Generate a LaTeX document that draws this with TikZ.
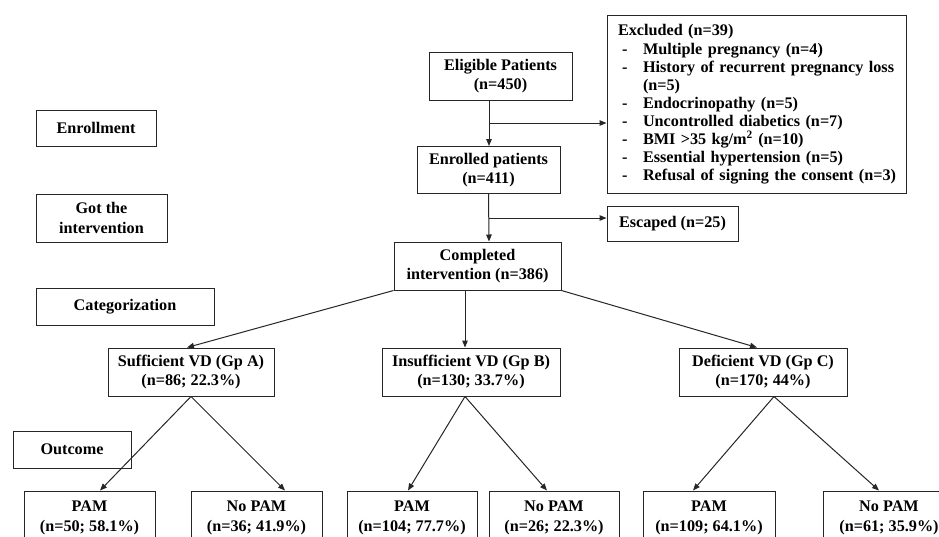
\documentclass[tikz,border=0pt]{standalone}
\usepackage{fontspec}
\setmainfont{Liberation Serif}
\usetikzlibrary{arrows.meta}
\begin{document}
\begin{tikzpicture}[x=1pt,y=-1pt,
  box/.style={draw=black!85, line width=1pt, fill=white, align=center, inner sep=0pt,
    font=\fontsize{16.2pt}{19.5pt}\selectfont\bfseries},
  listbox/.style={draw=black!85, line width=1pt, fill=white, align=left, inner xsep=11pt, inner ysep=0pt,
    font=\fontsize{16.2pt}{18.1pt}\selectfont\bfseries},
  arr/.style={draw=black!85, line width=1pt, -{Triangle[length=7pt,width=5.5pt]}}]
\clip (0,0) rectangle (939,536);
\fill[white] (0,0) rectangle (939,536);
% stage labels
\node[box, minimum width=120pt, minimum height=36pt] (enr) at (96,128) {Enrollment};
\node[box, minimum width=131pt, minimum height=48pt] (got) at (101.5,218) {Got the\\intervention};
\node[box, minimum width=178pt, minimum height=37pt] (cat) at (125,306.5) {Categorization};
\node[box, minimum width=118pt, minimum height=37pt] (outc) at (72,449.5) {Outcome};
% main flow
\node[box, minimum width=143pt, minimum height=48pt] (elig) at (500.5,76) {Eligible Patients\\(n=450)};
\node[box, minimum width=143pt, minimum height=47pt] (enrol) at (488.5,170) {Enrolled patients\\(n=411)};
\node[box, minimum width=167pt, minimum height=48pt] (comp) at (477.5,266) {Completed\\intervention (n=386)};
\node[listbox, text width=277pt, minimum width=299pt, minimum height=178pt] (excl) at (756.5,104.5) {%
Excluded (n=39)\\
\makebox[25pt][l]{\hspace{4pt}-}Multiple pregnancy (n=4)\\
\makebox[25pt][l]{\hspace{4pt}-}\mbox{History of recurrent pregnancy loss}\\
\makebox[25pt][l]{}(n=5)\\
\makebox[25pt][l]{\hspace{4pt}-}Endocrinopathy (n=5)\\
\makebox[25pt][l]{\hspace{4pt}-}Uncontrolled diabetics (n=7)\\
\makebox[25pt][l]{\hspace{4pt}-}BMI {>}35 kg/m\textsuperscript{2} (n=10)\\
\makebox[25pt][l]{\hspace{4pt}-}Essential hypertension (n=5)\\
\makebox[25pt][l]{\hspace{4pt}-}\mbox{Refusal of signing the consent (n=3)}};
\node[box, minimum width=131pt, minimum height=35pt] (esc) at (672.5,223.5) {Escaped (n=25)};
% groups
\node[box, minimum width=166pt, minimum height=48pt] (suf) at (191,372) {Sufficient VD (Gp A)\\(n=86; 22.3\%)};
\node[box, minimum width=178pt, minimum height=48pt] (ins) at (471,372) {Insufficient VD (Gp B)\\(n=130; 33.7\%)};
\node[box, minimum width=168pt, minimum height=48pt] (def) at (763,372) {Deficient VD (Gp C)\\(n=170; 44\%)};
% outcomes
\node[box, minimum width=131pt, minimum height=54pt] (pamA) at (89.5,518) {PAM\\(n=50; 58.1\%)};
\node[box, minimum width=131pt, minimum height=54pt] (npA) at (256.5,518) {No PAM\\(n=36; 41.9\%)};
\node[box, minimum width=130pt, minimum height=54pt] (pamB) at (412,518) {PAM\\(n=104; 77.7\%)};
\node[box, minimum width=130pt, minimum height=54pt] (npB) at (554,518) {No PAM\\(n=26; 22.3\%)};
\node[box, minimum width=132pt, minimum height=54pt] (pamC) at (709,518) {PAM\\(n=109; 64.1\%)};
\node[box, minimum width=132pt, minimum height=54pt] (npC) at (889,518) {No PAM\\(n=61; 35.9\%)};
% connectors
\draw[arr] (489,0 |- elig.south) -- (489,0 |- enrol.north);
\coordinate (b1) at (489,123);
\draw[arr] (b1) -- (b1 -| excl.west);
\draw[arr] (enrol.south) -- (489,0 |- comp.north);
\coordinate (b2) at (489,218);
\draw[arr] (b2) -- (b2 -| esc.west);
\draw[arr] (comp.south west) -- (187,0 |- suf.north);
\draw[arr] (465,0 |- comp.south) -- (465,0 |- ins.north);
\draw[arr] (comp.south east) -- (757,0 |- def.north);
\draw[arr] (suf.south) -- (100,0 |- pamA.north);
\draw[arr] (suf.south) -- (285,0 |- npA.north);
\draw[arr] (465,0 |- ins.south) -- (408,0 |- pamB.north);
\draw[arr] (465,0 |- ins.south) -- (547,0 |- npB.north);
\draw[arr] (774,0 |- def.south) -- (693,0 |- pamC.north);
\draw[arr] (774,0 |- def.south) -- (879,0 |- npC.north);
\end{tikzpicture}
\end{document}
